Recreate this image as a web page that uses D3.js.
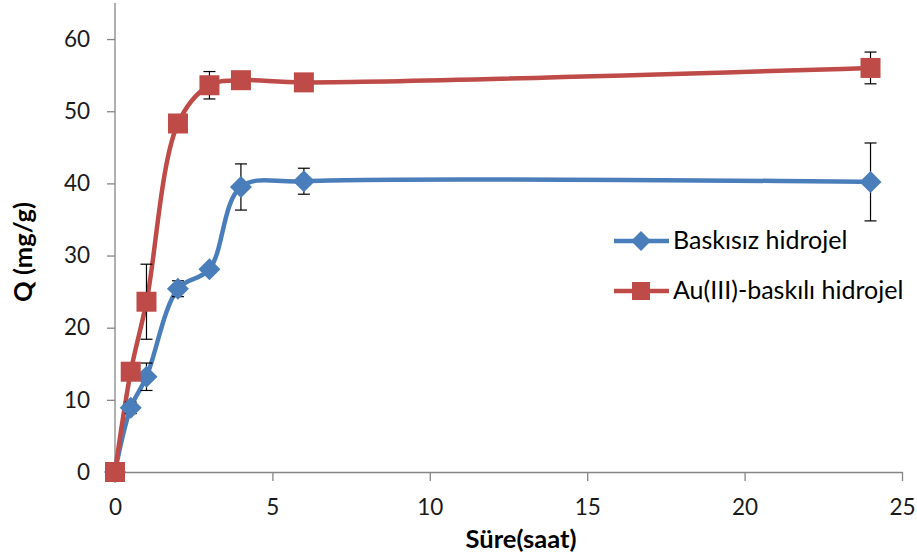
<!DOCTYPE html>
<html><head><meta charset="utf-8">
<script src="https://cdn.jsdelivr.net/npm/d3@7"></script>
<style>body{margin:0;background:#fff}svg{display:block}text{font-family:Lato,"Open Sans",sans-serif}</style>
</head><body><svg id="c" width="917" height="556"></svg>
<script>
const times = [0, 0.5, 1, 2, 3, 4, 6, 24];
const seriesNames = ["Baskısız hidrojel", "Au(III)-baskılı hidrojel"];
const baskisiz = [0, 8.9, 13.2, 25.4, 28.1, 39.5, 40.3, 40.2];
const baskisizErr = [0, 0.8, 1.9, 1.1, 0.3, 3.2, 1.8, 5.4];
const baskili = [0, 13.9, 23.6, 48.3, 53.6, 54.3, 54.0, 56.0];
const baskiliErr = [0, 0.9, 5.2, 0.4, 1.9, 0.3, 0.3, 2.2];
const xTicks = [0, 5, 10, 15, 20, 25];
const yTicks = [0, 10, 20, 30, 40, 50, 60];
const colors = ["#4a7ebb", "#be4b48"];

const svg = d3.select("#c");
const m = {l:115, r:902, t:3, b:472};
const x = d3.scaleLinear().domain([0,25]).range([m.l, m.r]);
const y = d3.scaleLinear().domain([0,65]).range([m.b, m.t]);
const axisCol = "#868686";

const gx = svg.append("g").attr("transform", `translate(0,${m.b})`)
  .call(d3.axisBottom(x).tickValues(xTicks).tickSize(9).tickSizeOuter(0).tickPadding(18));
const gy = svg.append("g").attr("transform", `translate(${m.l},0)`)
  .call(d3.axisLeft(y).tickValues(yTicks).tickSize(8).tickSizeOuter(0).tickPadding(17));
[gx, gy].forEach(g => {
  g.select(".domain").attr("stroke", axisCol).attr("stroke-width", 1.3);
  g.selectAll(".tick line").attr("stroke", axisCol).attr("stroke-width", 1.3);
  g.selectAll(".tick text").attr("fill", "#1a1a1a").style("font-size", "22.5px").style("font-family", "Lato, sans-serif");
});
gy.select(".domain").attr("d", `M0,${m.t}V${m.b}`);

svg.append("text").attr("x", 521).attr("y", 548).attr("text-anchor", "middle")
  .style("font-size", "25.5px").style("font-weight", "bold").attr("fill", "#000").text("Süre(saat)");
svg.append("text").attr("transform", "translate(32,252) rotate(-90)").attr("text-anchor", "middle")
  .style("font-size", "25.5px").style("font-weight", "bold").attr("fill", "#000").text("Q (mg/g)");

const line = d3.line().x(d => x(d[0])).y(d => y(d[1])).curve(d3.curveCatmullRom.alpha(0.5));
const data = [baskisiz, baskili];
const errs = [baskisizErr, baskiliErr];

data.forEach((vals, i) => {
  const pts = times.map((t, j) => [t, vals[j]]);
  svg.append("path").datum(pts).attr("d", line).attr("fill", "none")
    .attr("stroke", colors[i]).attr("stroke-width", 4.5).attr("stroke-linejoin", "round");
});

// error bars
data.forEach((vals, i) => {
  const g = svg.append("g").attr("stroke", "#000").attr("stroke-width", 1.2);
  times.forEach((t, j) => {
    const e = errs[i][j];
    if (e <= 0) return;
    const cx = x(t), y1 = y(vals[j] + e), y2 = y(vals[j] - e);
    g.append("line").attr("x1", cx).attr("x2", cx).attr("y1", y1).attr("y2", y2);
    g.append("line").attr("x1", cx-6).attr("x2", cx+6).attr("y1", y1).attr("y2", y1);
    g.append("line").attr("x1", cx-6).attr("x2", cx+6).attr("y1", y2).attr("y2", y2);
  });
});

const diamond = (cx, cy, r) => `M${cx},${cy-r}L${cx+r},${cy}L${cx},${cy+r}L${cx-r},${cy}Z`;
// markers
times.forEach((t, j) => {
  svg.append("path").attr("d", diamond(x(t), y(baskisiz[j]), 11)).attr("fill", colors[0]);
});
times.forEach((t, j) => {
  svg.append("rect").attr("x", x(t)-10).attr("y", y(baskili[j])-10).attr("width", 20).attr("height", 20).attr("fill", colors[1]);
});

// legend
const lg = svg.append("g");
[241, 291].forEach((ly, i) => {
  lg.append("line").attr("x1", 614).attr("x2", 669).attr("y1", ly).attr("y2", ly).attr("stroke", colors[i]).attr("stroke-width", 4.5);
  if (i === 0) lg.append("path").attr("d", diamond(641, ly, 10)).attr("fill", colors[0]);
  else lg.append("rect").attr("x", 632).attr("y", ly-9).attr("width", 18).attr("height", 18).attr("fill", colors[1]);
  lg.append("text").attr("x", 673).attr("y", ly+8).style("font-size", "25px").attr("fill", "#000").text(seriesNames[i]);
});
</script></body></html>
